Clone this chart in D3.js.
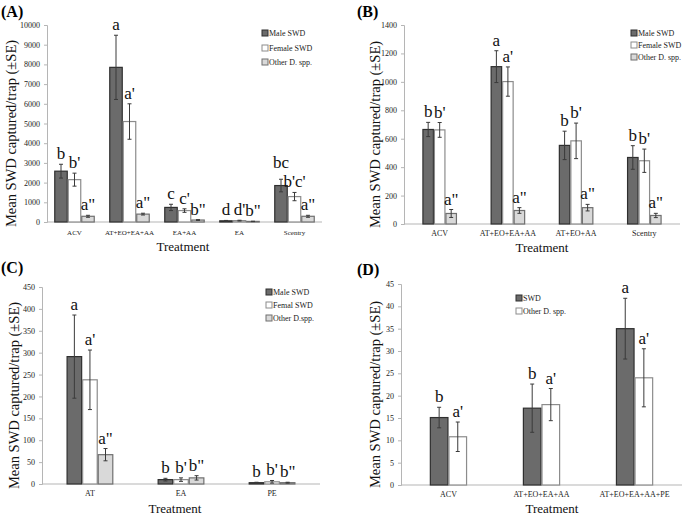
<!DOCTYPE html>
<html><head><meta charset="utf-8">
<script src="https://cdn.jsdelivr.net/npm/d3@7"></script>
<style>body{margin:0;background:#fff}svg{display:block}text{font-family:"Liberation Serif","DejaVu Serif","Times New Roman",serif}</style>
</head><body><svg id="c" width="685" height="517"></svg>
<script>
// ---- Panel A ----
const catsA = ["ACV","AT+EO+EA+AA","EA+AA","EA","Scentry"];
const seriesA = ["Male SWD","Female SWD","Other D. spp."];
const maleA = [2580,7850,740,60,1850];
const maleErrA = [350,1630,160,20,320];
const femaleA = [2150,5100,580,70,1290];
const femaleErrA = [330,900,90,20,210];
const otherA = [290,400,100,30,290];
const otherErrA = [50,45,20,10,50];
const letMaleA = ["b","a","c","d","bc"];
const letFemaleA = ["b'","a'","c'","d'","b'c'"];
const letOtherA = ["a\"","a\"","b\"","b\"","a\""];
const ticksA = [0,1000,2000,3000,4000,5000,6000,7000,8000,9000,10000];
// ---- Panel B ----
const catsB = ["ACV","AT+EO+EA+AA","AT+EO+AA","Scentry"];
const seriesB = ["Male SWD","Female SWD","Other D. spp."];
const maleB = [665,1107,553,468];
const maleErrB = [50,112,100,83];
const femaleB = [662,1002,585,445];
const femaleErrB = [52,103,125,82];
const otherB = [74,95,115,60];
const otherErrB = [28,20,23,15];
const letMaleB = ["b","a","b","b"];
const letFemaleB = ["b'","a'","b'","b'"];
const letOtherB = ["a\"","a\"","a\"","a\""];
const ticksB = [0,200,400,600,800,1000,1200,1400];
// ---- Panel C ----
const catsC = ["AT","EA","PE"];
const seriesC = ["Male SWD","Femal SWD","Other D.spp."];
const maleC = [291,10,3];
const maleErrC = [95,3,1];
const femaleC = [238,10,5];
const femaleErrC = [68,4,3];
const otherC = [67,14,3];
const otherErrC = [14,5,1];
const letMaleC = ["a","b","b"];
const letFemaleC = ["a'","b'","b'"];
const letOtherC = ["a\"","b\"","b\""];
const ticksC = [0,50,100,150,200,250,300,350,400,450];
// ---- Panel D ----
const catsD = ["ACV","AT+EO+EA+AA","AT+EO+EA+AA+PE"];
const seriesD = ["SWD","Other D. spp."];
const swdD = [15.1,17.2,35.0];
const swdErrD = [2.3,5.4,6.8];
const otherD = [10.8,18.0,24.0];
const otherErrD = [3.3,3.6,6.5];
const letSwdD = ["b","b","a"];
const letOtherD = ["a'","a'","a'"];
const ticksD = [0,5,10,15,20,25,30,35,40,45];

const FONT = "Liberation Serif";
const STY = {
  male:{fill:"#6b6b6b",stroke:"#2f2f2f"},
  female:{fill:"#ffffff",stroke:"#8c8c8c"},
  other:{fill:"#d9d9d9",stroke:"#6f6f6f"}
};

const panels = [
 {id:"(A)",idX:1,idY:17,cats:catsA,ticks:ticksA,x0:47,x1:322,yTop:25,yBot:222,pi:0.264,po:0.132,
  series:[{n:seriesA[0],v:maleA,e:maleErrA,l:letMaleA,s:STY.male},{n:seriesA[1],v:femaleA,e:femaleErrA,l:letFemaleA,s:STY.female},{n:seriesA[2],v:otherA,e:otherErrA,l:letOtherA,s:STY.other}],
  leg:{x:262,tx:269,ys:[33,48,62]},catFont:7,catY:235,titleX:183,titleY:251,yTitleX:11},
 {id:"(B)",idX:357,idY:17,cats:catsB,ticks:ticksB,x0:404,x1:680,yTop:25,yBot:224,pi:0.494,po:0.27,
  series:[{n:seriesB[0],v:maleB,e:maleErrB,l:letMaleB,s:STY.male},{n:seriesB[1],v:femaleB,e:femaleErrB,l:letFemaleB,s:STY.female},{n:seriesB[2],v:otherB,e:otherErrB,l:letOtherB,s:STY.other}],
  leg:{x:631,tx:638,ys:[33,45,57]},catFont:8,catY:236,titleX:542,titleY:252,yTitleX:375},
 {id:"(C)",idX:1,idY:273,cats:catsC,ticks:ticksC,x0:42,x1:320,yTop:287,yBot:484,pi:0.487,po:0.27,
  series:[{n:seriesC[0],v:maleC,e:maleErrC,l:letMaleC,s:STY.male},{n:seriesC[1],v:femaleC,e:femaleErrC,l:letFemaleC,s:STY.female},{n:seriesC[2],v:otherC,e:otherErrC,l:letOtherC,s:STY.other}],
  leg:{x:266,tx:273,ys:[292,305,318]},catFont:8,catY:496,titleX:175,titleY:513,yTitleX:14},
 {id:"(D)",idX:357,idY:275,cats:catsD,ticks:ticksD,x0:401,x1:682,yTop:284,yBot:485,pi:0.6,po:0.31,
  series:[{n:seriesD[0],v:swdD,e:swdErrD,l:letSwdD,s:STY.male},{n:seriesD[1],v:otherD,e:otherErrD,l:letOtherD,s:STY.female}],
  leg:{x:516,tx:523,ys:[298,311]},catFont:8,catY:497,titleX:552,titleY:513,yTitleX:375}
];

const svg = d3.select("#c");

panels.forEach(p=>{
  const g = svg.append("g");
  const y = d3.scaleLinear().domain([0,d3.max(p.ticks)]).range([p.yBot,p.yTop]);
  const x = d3.scaleBand().domain(p.cats).range([p.x0,p.x1]).paddingInner(p.pi).paddingOuter(p.po);
  const xs = d3.scaleBand().domain(d3.range(p.series.length)).range([0,x.bandwidth()]);

  const ya = g.append("g").attr("transform",`translate(${p.x0},0)`)
    .call(d3.axisLeft(y).tickValues(p.ticks).tickSize(3).tickPadding(4).tickFormat(d3.format("d")));
  ya.attr("font-family",FONT);
  ya.select(".domain").attr("stroke","#b5b5b5");
  ya.selectAll(".tick line").attr("stroke","#b5b5b5");
  ya.selectAll(".tick text").attr("font-size",8).attr("fill","#222").attr("font-family",FONT);

  const xa = g.append("g").attr("transform",`translate(0,${p.yBot})`)
    .call(d3.axisBottom(x).tickSize(0).tickPadding(0).tickSizeOuter(0));
  xa.attr("font-family",FONT);
  xa.select(".domain").attr("stroke","#b5b5b5").attr("d",`M${p.x0},0H${p.x1}`);
  xa.selectAll(".tick text").attr("font-size",p.catFont).attr("fill","#222")
    .attr("font-family",FONT).attr("y",p.catY-p.yBot).attr("dy",0);

  const labels = p.cats.map(()=>[]);
  p.series.forEach((s,si)=>{
    const gs = g.append("g");
    gs.selectAll("rect").data(p.cats).join("rect")
      .attr("x",(c)=>x(c)+xs(si)+0.5).attr("width",xs.bandwidth()-1)
      .attr("y",(c,i)=>y(s.v[i])).attr("height",(c,i)=>p.yBot-y(s.v[i]))
      .attr("fill",s.s.fill).attr("stroke",s.s.stroke).attr("stroke-width",1.2);
    p.cats.forEach((c,i)=>{
      const cx = x(c)+xs(si)+xs.bandwidth()/2;
      const lo = Math.max(0,s.v[i]-s.e[i]), hi = s.v[i]+s.e[i];
      gs.append("line").attr("x1",cx).attr("x2",cx).attr("y1",y(lo)).attr("y2",y(hi)).attr("stroke","#3a3a3a").attr("stroke-width",1);
      [lo,hi].forEach(v=>gs.append("line").attr("x1",cx-2).attr("x2",cx+2).attr("y1",y(v)).attr("y2",y(v)).attr("stroke","#3a3a3a").attr("stroke-width",1));
      const t = gs.append("text").attr("x",cx).attr("y",y(hi)-5).attr("text-anchor","middle")
        .attr("font-family",FONT).attr("font-size",17).attr("fill","#111").text(s.l[i]);
      labels[i].push(t);
    });
  });
  // lift a letter label when it collides with its right-hand neighbour
  labels.forEach(arr=>{
    for(let k=arr.length-2;k>=0;k--){
      const a = arr[k].node().getBBox(), b = arr[k+1].node().getBBox();
      const hOver = a.x + a.width > b.x + 0.5 && b.x + b.width > a.x + 0.5;
      const vOver = a.y + a.height > b.y && b.y + b.height > a.y;
      if(hOver && vOver){
        const shift = (a.y + a.height) - b.y + 0.5;
        arr[k].attr("y", +arr[k].attr("y") - shift);
      }
    }
  });

  p.series.forEach((s,si)=>{
    const ly = p.leg.ys[si];
    g.append("rect").attr("x",p.leg.x).attr("y",ly-3).attr("width",6).attr("height",6)
      .attr("fill",s.s.fill).attr("stroke",s.s.stroke).attr("stroke-width",1);
    g.append("text").attr("x",p.leg.tx).attr("y",ly+3).attr("font-family",FONT).attr("font-size",8).attr("fill","#222").text(s.n);
  });

  g.append("text").attr("x",p.titleX).attr("y",p.titleY).attr("text-anchor","middle")
    .attr("font-family",FONT).attr("font-size",13).attr("fill","#111").text("Treatment");
  const yc = (p.yTop+p.yBot)/2+10;
  g.append("text").attr("transform",`translate(${p.yTitleX+5},${yc}) rotate(-90)`).attr("text-anchor","middle")
    .attr("font-family",FONT).attr("font-size",14.5).attr("fill","#111").text("Mean SWD captured/trap (\u00b1SE)");
  g.append("text").attr("x",p.idX).attr("y",p.idY).attr("font-family",FONT).attr("font-size",16).attr("font-weight","bold")
    .attr("fill","#000").text(p.id);
});
</script></body></html>
